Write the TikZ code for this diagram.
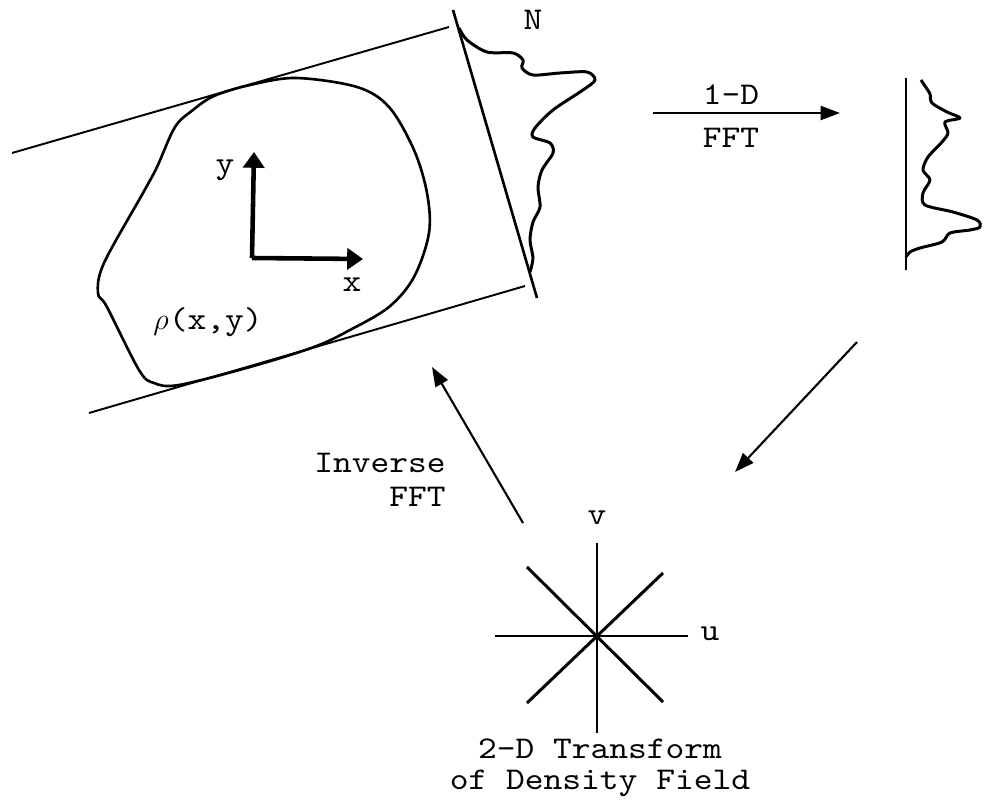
\documentclass[tikz,border=0pt]{standalone}
\usepackage{fontspec}
\newfontfamily\cour{lmmono10-regular.otf}[FakeStretch=1.13]
\usetikzlibrary{arrows.meta}
\begin{document}
\begin{tikzpicture}[x=0.02cm,y=-0.02cm,
  txt/.style={font=\cour\fontsize{18pt}{17.6pt}\selectfont, inner sep=0pt},
  thin line/.style={line width=1.1pt},
  outline/.style={line width=1.5pt, line join=round},
  prof/.style={line width=1.7pt, line join=round},
  axis arrow/.style={line width=2.6pt, -{Triangle[length=9pt,width=12pt]}},
  flow/.style={line width=1.2pt, -{Triangle[length=11pt,width=8pt]}}]
\useasboundingbox (0,0) rectangle (985,800);

% tangent lines and projection line
\coordinate (ua) at (12,153);
\coordinate (ub) at (449,27);
\coordinate (la) at (89,413);
\coordinate (lb) at (525,286);
\coordinate (pa) at (453,10);
\coordinate (pb) at (537,298);
\draw[thin line] (ua) -- (ub);
\draw[thin line] (la) -- (lb);
\draw[line width=1.5pt] (pa) -- (pb);

% object outline
\draw[outline] plot[smooth cycle, tension=0.55] coordinates {
 (296,78) (357,87) (389,107) (414,150) (427,193) (429,233) (414,277)
 (389,307) (350,330) (314,347) (250,367) (179,385) (154,383) (139,370)
 (107,307) (98,293) (104,263) (143,193) (157,167) (175,127) (193,110)
 (214,96) (250,85)};

% projection profile
\draw[prof] plot[smooth, tension=0.5] coordinates {
 (459,28) (467,40) (487,52) (513,53) (523,60) (522,68) (533,75) (560,73)
 (587,72) (595,80) (583,90) (553,110) (535,128) (533,137) (550,143)
 (553,153) (542,170) (538,187) (540,207) (533,222) (530,240) (533,258)
 (530,272)};

% axes
\coordinate (o) at (252,258);
\coordinate (ytip) at (254,152);
\coordinate (xtip) at (363,259);
\draw[axis arrow] (o) -- (ytip);
\draw[axis arrow] (o) -- (xtip);
\node[txt] (ylab) at (225,170) {y};
\node[txt] (xlab) at (352,285) {x};
\node[txt] (rho) at (208,322) {$\rho$(x,y)};
\node[txt] (nlab) at (533,20) {N};

% 1-D FFT arrow
\coordinate (fa) at (653,113);
\coordinate (fb) at (840,113);
\draw[flow] (fa) -- (fb);
\node[txt] (oned) at (731,95) {1-D};
\node[txt] (fft1) at (731,138) {FFT};

% transformed profile
\coordinate (ta) at (906,78);
\coordinate (tb) at (906,270);
\draw[line width=1.7pt] (ta) -- (tb);
\draw[prof] plot[smooth, tension=0.5] coordinates {
 (921,80) (925,86) (930,94) (932,103) (947,112) (960,118) (945,122)
 (948,133) (942,142) (928,157) (923,170) (930,180) (923,193) (925,205)
 (953,212) (977,220) (980,227) (970,230) (950,233) (942,242) (920,248)
 (910,252) (906,257)};

% arrow down-left
\coordinate (da) at (857,342);
\coordinate (db) at (735,472);
\draw[flow] (da) -- (db);

% inverse FFT arrow
\coordinate (ia) at (523,523);
\coordinate (ib) at (432,367);
\draw[flow] (ia) -- (ib);
\node[txt, anchor=east] (inv) at (446,463) {Inverse};
\node[txt, anchor=east] (fft2) at (446,497) {FFT};

% 2-D star
\coordinate (c) at (597,636);
\coordinate (vt) at (597,543);
\coordinate (vb) at (597,733);
\coordinate (hl) at (495,636);
\coordinate (hr) at (688,636);
\coordinate (d1) at (527,567);
\coordinate (d2) at (663,702);
\coordinate (d3) at (663,573);
\coordinate (d4) at (527,703);
\draw[line width=1.7pt] (vt) -- (vb);
\draw[line width=1.7pt] (hl) -- (hr);
\draw[line width=1.7pt] (d1) -- (d2);
\draw[line width=1.7pt] (d3) -- (d4);
\node[txt] (vlab) at (597,518) {v};
\node[txt] (ulab) at (710,634) {u};
\node[txt, align=center] (cap) at (600,768) {2-D Transform\\of Density Field};
\end{tikzpicture}
\end{document}
